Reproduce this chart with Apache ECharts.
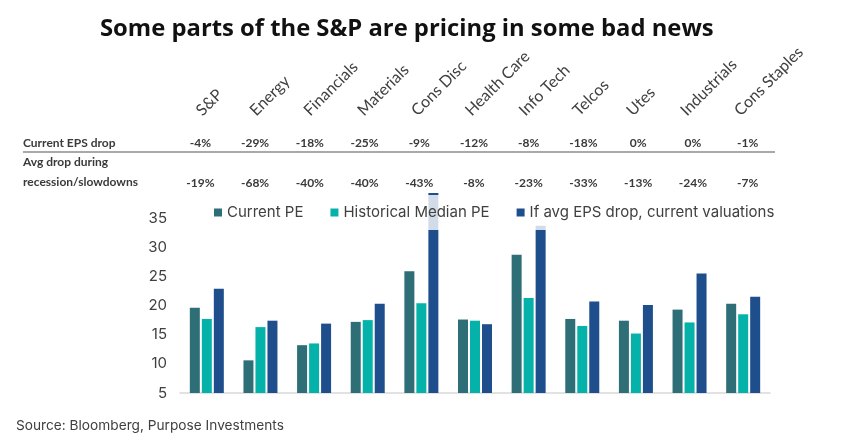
<!DOCTYPE html>
<html><head><meta charset="utf-8">
<script src="https://cdn.jsdelivr.net/npm/echarts@6/dist/echarts.min.js"></script>
<style>html,body{margin:0;padding:0;background:#fff}#c{width:841px;height:443px}</style>
</head><body><div id="c"></div>
<script>
const categories = ['S&P','Energy','Financials','Materials','Cons Disc','Health Care','Info Tech','Telcos','Utes','Industrials','Cons Staples'];
const currentEpsDrop = ['-4%','-29%','-18%','-25%','-9%','-12%','-8%','-18%','0%','0%','-1%'];
const avgRecessionDrop = ['-19%','-68%','-40%','-40%','-43%','-8%','-23%','-33%','-13%','-24%','-7%'];
const currentPE = [19.6,10.6,13.2,17.2,25.9,17.6,28.7,17.7,17.4,19.3,20.3];
const historicalMedianPE = [17.7,16.3,13.5,17.5,20.4,17.4,21.3,16.5,15.2,17.1,18.5];
const avgDropValuation = [22.9,17.4,16.9,20.3,39.3,16.8,33.7,20.7,20.1,25.5,21.5];
const seriesNames = ['Current PE','Historical Median PE','If avg EPS drop, current valuations'];
const yMin = 5, yMax = 39.3, yStep = 5;

const chart = echarts.init(document.getElementById('c'));
const txt = '#404040';
const bodyFont = 'Inter';
const tableFont = 'Lato';
const hiddenAxis = {axisLine:{show:false},axisTick:{show:false},splitLine:{show:false}};
chart.setOption({
  animation:false,
  backgroundColor:'#fff',
  title:{text:'Some parts of the S&P are pricing in some bad news',left:95,top:12,
    textStyle:{fontFamily:'Open Sans',fontWeight:'bold',fontSize:23.8,color:'#111'}},
  legend:{data:seriesNames,left:210,top:195,padding:[10,4,10,4],itemWidth:8,itemHeight:8,itemGap:27,
    icon:'rect',backgroundColor:'rgba(255,255,255,0.8)',z:10,
    textStyle:{fontFamily:bodyFont,fontSize:15,color:txt}},
  grid:[
    {left:180,right:71,top:193,bottom:50},
    {left:172,right:77,top:118,height:1},
    {left:173,right:66,top:129,height:2},
    {left:173,right:66,top:169,height:2}
  ],
  xAxis:[
    {type:'category',gridIndex:0,data:categories,axisLine:{lineStyle:{color:'#d9d9d9',width:1.5}},axisTick:{show:false},axisLabel:{show:false}},
    Object.assign({type:'category',gridIndex:1,data:categories,position:'top',
      axisLabel:{rotate:45,margin:5,interval:0,fontFamily:tableFont,fontSize:16,color:txt}},hiddenAxis),
    Object.assign({type:'category',gridIndex:2,data:categories,position:'bottom',
      axisLabel:{margin:6,interval:0,fontFamily:tableFont,fontSize:12,fontWeight:'bold',color:'#3a3a3a',formatter:(v,i)=>currentEpsDrop[i]}},hiddenAxis),
    Object.assign({type:'category',gridIndex:3,data:categories,position:'bottom',
      axisLabel:{margin:6,interval:0,fontFamily:tableFont,fontSize:12,fontWeight:'bold',color:'#3a3a3a',formatter:(v,i)=>avgRecessionDrop[i]}},hiddenAxis)
  ],
  yAxis:[
    {type:'value',gridIndex:0,min:yMin,max:yMax,interval:yStep,axisLine:{show:false},axisTick:{show:false},splitLine:{show:false},
      axisLabel:{showMaxLabel:false,margin:13,fontFamily:bodyFont,fontSize:15,color:txt}},
    Object.assign({type:'value',gridIndex:1,axisLabel:{show:false}},hiddenAxis),
    Object.assign({type:'value',gridIndex:2,axisLabel:{show:false}},hiddenAxis),
    Object.assign({type:'value',gridIndex:3,axisLabel:{show:false}},hiddenAxis)
  ],
  series:[
    {name:seriesNames[0],type:'bar',data:currentPE,barWidth:10,barGap:'20%',itemStyle:{color:'#2d6e77'}},
    {name:seriesNames[1],type:'bar',data:historicalMedianPE,barWidth:10,barGap:'20%',itemStyle:{color:'#05b2aa'}},
    {name:seriesNames[2],type:'bar',data:avgDropValuation,barWidth:10,barGap:'20%',itemStyle:{color:'#1f4e8c'}}
  ],
  graphic:[
    {type:'text',left:23,top:137,style:{text:'Current EPS drop',font:'bold 12px Lato',fill:'#3a3a3a'}},
    {type:'line',shape:{x1:23,y1:152,x2:775,y2:152},style:{stroke:'#8c8c8c',lineWidth:1.5}},
    {type:'text',left:23,top:156,style:{text:'Avg drop during',font:'bold 12px Lato',fill:'#3a3a3a'}},
    {type:'text',left:23,top:176,style:{text:'recession/slowdowns',font:'bold 12px Lato',fill:'#3a3a3a'}},
    {type:'text',left:16,top:419,style:{text:'Source: Bloomberg, Purpose Investments',font:'13.7px Inter',fill:txt}}
  ]
});
</script></body></html>
